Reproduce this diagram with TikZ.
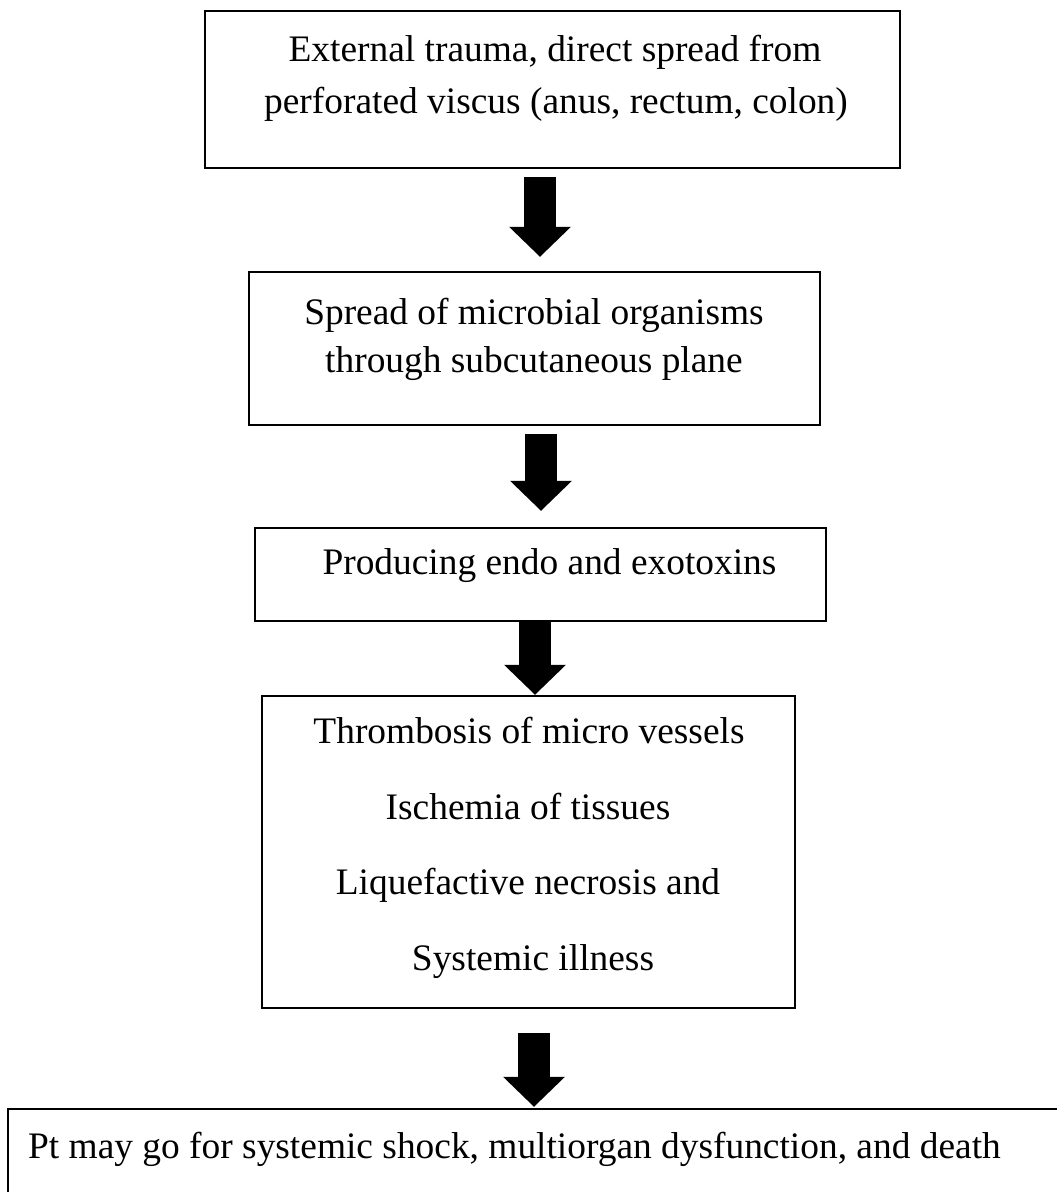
\documentclass[tikz,border=0pt]{standalone}
\usepackage{fontspec}
\setmainfont{Liberation Serif}
\usetikzlibrary{arrows.meta}
\tikzset{
  box/.style={draw=black, line width=2.5pt, rectangle, inner sep=0pt, fill=none},
  txt/.style={inner sep=0pt, font=\fontsize{37.4pt}{45pt}\selectfont},
  bigarrow/.style={line width=32pt, line cap=butt,
    -{Triangle[width=62pt,length=30pt,line width=0pt]}}
}
\begin{document}
\begin{tikzpicture}[x=1pt,y=-1pt]
\clip (0,0) rectangle (1057,1192);
\fill[white] (0,0) rectangle (1057,1192);
% boxes
\node[box, minimum width=695pt, minimum height=157pt] (b1) at (552.5,89.5) {};
\node[box, minimum width=571pt, minimum height=153pt] (b2) at (534.5,348.5) {};
\node[box, minimum width=571pt, minimum height=93pt] (b3) at (540.5,574.5) {};
\node[box, minimum width=533pt, minimum height=312pt] (b4) at (528.5,852) {};
\node[box, minimum width=1100pt, minimum height=160pt] (b5) at (558,1189) {};
% texts
\node[txt, anchor=base] (t1a) at (555,61) {External trauma, direct spread from};
\node[txt, anchor=base] (t1b) at (556,113) {perforated viscus (anus, rectum, colon)};
\node[txt, anchor=base] (t2a) at (534,324) {Spread of microbial organisms};
\node[txt, anchor=base] (t2b) at (534,372) {through subcutaneous plane};
\node[txt, anchor=base] (t3) at (549.5,574) {Producing endo and exotoxins};
\node[txt, anchor=base] (t4a) at (529,743) {Thrombosis of micro vessels};
\node[txt, anchor=base] (t4b) at (528,819) {Ischemia of tissues};
\node[txt, anchor=base] (t4c) at (528,894) {Liquefactive necrosis and};
\node[txt, anchor=base] (t4d) at (533,970) {Systemic illness};
\node[txt, anchor=base west] (t5) at (28,1158) {Pt may go for systemic shock, multiorgan dysfunction, and death};
% arrows
\draw[bigarrow, shorten <=8pt, shorten >=14pt] ([xshift=-12.5pt]b1.south) -- ([xshift=5.5pt]b2.north);
\draw[bigarrow, shorten <=8pt, shorten >=16pt] ([xshift=6.5pt]b2.south) -- ([xshift=0.5pt]b3.north);
\draw[bigarrow] ([xshift=-5.5pt]b3.south) -- ([xshift=6.5pt]b4.north);
\draw[bigarrow, shorten <=24pt, shorten >=1pt] ([xshift=5.5pt]b4.south) -- ([xshift=-24pt]b5.north);
\end{tikzpicture}
\end{document}
